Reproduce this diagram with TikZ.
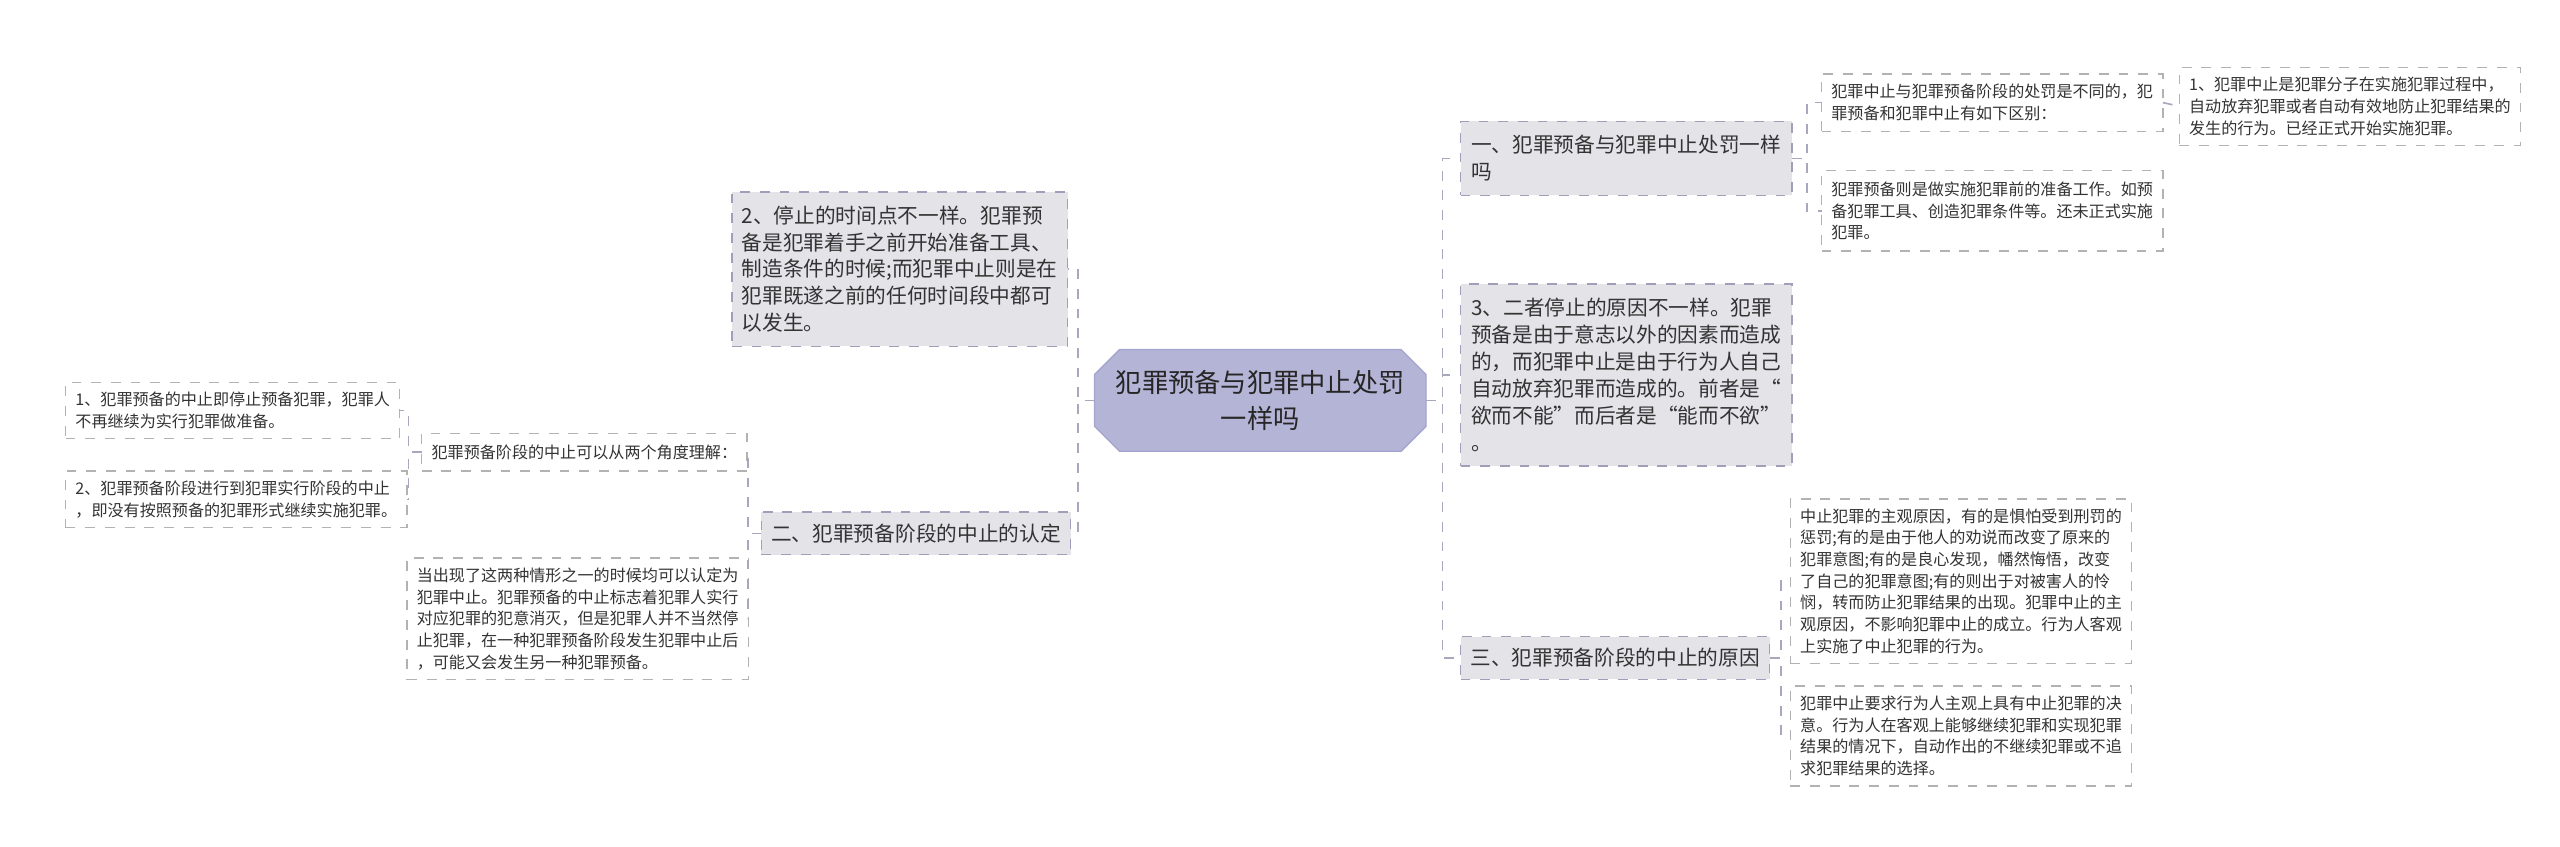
\documentclass[tikz,border=0pt]{standalone}
\usepackage{fontspec}
\setmainfont{Noto Sans CJK SC}
\usetikzlibrary{shapes.misc}
\begin{document}
\begin{tikzpicture}[x=0.5pt,y=-0.5pt,
  every node/.style={inner sep=0pt,outer sep=0pt,text=black!80},
  lvone/.style={draw=black!30!blue!25!gray!60,dashed,fill=blue!10!gray!20,align=left,font=\fontsize{6.3}{8.2}\selectfont,inner xsep=3pt,inner ysep=3pt,anchor=north west},
  leaf/.style={draw=gray!60,dashed,fill=white,align=left,font=\fontsize{4.9}{6.6}\selectfont,inner xsep=3pt,inner ysep=3pt,anchor=north west},
  link/.style={draw=blue!15!gray!60,dashed,line width=0.5pt}]
\useasboundingbox (0,0) rectangle (1560,516);
\node[chamfered rectangle,chamfered rectangle xsep=4pt,fill=blue!30!gray!45,draw=blue!30!gray!55,minimum width=101pt,minimum height=31pt,align=center,font=\fontsize{8}{11}\selectfont,text=black!85] (c) at (768,244) {犯罪预备与犯罪中止处罚\\一样吗};
% right level 1
\node[lvone,minimum width=101pt,minimum height=22.5pt] (A) at (890,74) {一、犯罪预备与犯罪中止处罚一样\\吗};
\node[lvone,minimum width=101pt,minimum height=55.5pt] (B) at (890,173) {3、二者停止的原因不一样。犯罪\\预备是由于意志以外的因素而造成\\的，而犯罪中止是由于行为人自己\\自动放弃犯罪而造成的。前者是“\\欲而不能”而后者是“能而不欲”\\。};
\node[lvone,minimum width=93pt,minimum height=13pt] (C) at (890,388) {三、犯罪预备阶段的中止的原因};
% right leaves
\node[leaf,minimum width=100pt,minimum height=17.5pt] (A1) at (1110,45) {犯罪中止与犯罪预备阶段的处罚是不同的，犯\\罪预备和犯罪中止有如下区别：};
\node[leaf,minimum width=100pt,minimum height=24.5pt] (A2) at (1110,104) {犯罪预备则是做实施犯罪前的准备工作。如预\\备犯罪工具、创造犯罪条件等。还未正式实施\\犯罪。};
\node[leaf,minimum width=100pt,minimum height=23pt] (A1a) at (1328,41) {1、犯罪中止是犯罪分子在实施犯罪过程中，\\自动放弃犯罪或者自动有效地防止犯罪结果的\\发生的行为。已经正式开始实施犯罪。};
\node[leaf,minimum width=100pt,minimum height=46.5pt] (C1) at (1091,304) {中止犯罪的主观原因，有的是惧怕受到刑罚的\\惩罚;有的是由于他人的劝说而改变了原来的\\犯罪意图;有的是良心发现，幡然悔悟，改变\\了自己的犯罪意图;有的则出于对被害人的怜\\悯，转而防止犯罪结果的出现。犯罪中止的主\\观原因，不影响犯罪中止的成立。行为人客观\\上实施了中止犯罪的行为。};
\node[leaf,minimum width=100pt,minimum height=30.5pt] (C2) at (1091,418) {犯罪中止要求行为人主观上具有中止犯罪的决\\意。行为人在客观上能够继续犯罪和实现犯罪\\结果的情况下，自动作出的不继续犯罪或不追\\求犯罪结果的选择。};
% left
\node[lvone,minimum width=101.5pt,minimum height=47pt] (D) at (446,117) {2、停止的时间点不一样。犯罪预\\备是犯罪着手之前开始准备工具、\\制造条件的时候;而犯罪中止则是在\\犯罪既遂之前的任何时间段中都可\\以发生。};
\node[lvone,minimum width=92.5pt,minimum height=13pt] (E) at (464,312) {二、犯罪预备阶段的中止的认定};
\node[leaf,minimum width=96pt,minimum height=11.5pt] (E1) at (257,264) {犯罪预备阶段的中止可以从两个角度理解：};
\node[leaf,minimum width=100pt,minimum height=35pt] (E2) at (248,340) {当出现了这两种情形之一的时候均可以认定为\\犯罪中止。犯罪预备的中止标志着犯罪人实行\\对应犯罪的犯意消灭，但是犯罪人并不当然停\\止犯罪，在一种犯罪预备阶段发生犯罪中止后\\，可能又会发生另一种犯罪预备。};
\node[leaf,minimum width=100pt,minimum height=16pt] (E1a) at (40,233) {1、犯罪预备的中止即停止预备犯罪，犯罪人\\不再继续为实行犯罪做准备。};
\node[leaf,minimum width=100pt,minimum height=16pt] (E1b) at (40,287) {2、犯罪预备阶段进行到犯罪实行阶段的中止\\，即没有按照预备的犯罪形式继续实施犯罪。};
% connectors
\foreach \n in {A,B,C} \draw[link] (c.east) -- ++(10,0) |- (\n.west);
\foreach \n in {D,E} \draw[link] (c.west) -- ++(-10,0) |- (\n.east);
\foreach \n in {A1,A2} \draw[link] (A.east) -- ++(9,0) |- (\n.west);
\draw[link] (A1.east) -- (A1a.west);
\foreach \n in {C1,C2} \draw[link] (C.east) -- ++(7,0) |- (\n.west);
\foreach \n in {E1,E2} \draw[link] (E.west) -- ++(-8,0) |- (\n.east);
\foreach \n in {E1a,E1b} \draw[link] (E1.west) -- ++(-8,0) |- (\n.east);
\end{tikzpicture}
\end{document}
